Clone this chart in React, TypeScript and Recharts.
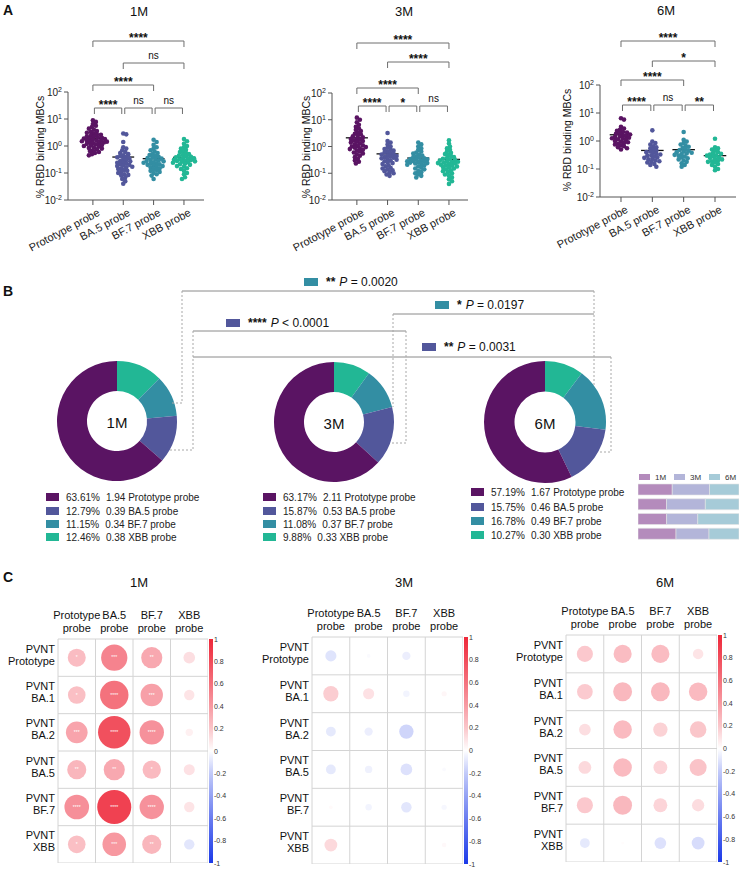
import React from 'react'
import {
  Bar,
  BarChart,
  Cell,
  Pie,
  PieChart,
  ReferenceLine,
  Scatter,
  ScatterChart,
  XAxis,
  YAxis,
} from 'recharts'

const FONT = '"Liberation Sans", Arial, Helvetica, sans-serif'

const PROBES = ['Prototype probe', 'BA.5 probe', 'BF.7 probe', 'XBB probe']
const PROBE_COLORS = ['#5a1463', '#52579b', '#338ea3', '#22b795']
const TIME_COLORS = ['#b48bbc', '#b3b5d9', '#a6cbd8']

// % RBD binding MBCs per donor
const M1_PROTOTYPE = [9.0, 7.8, 6.5, 5.6, 5.0, 4.4, 4.0, 3.6, 3.3, 3.1, 2.9, 2.7, 2.6, 2.4, 2.3, 2.2, 2.1, 2.0, 1.9, 1.85, 1.8, 1.7, 1.65, 1.6, 1.55, 1.5, 1.45, 1.4, 1.35, 1.3, 1.25, 1.2, 1.15, 1.1, 1.05, 1.0, 0.95, 0.9, 0.85, 0.8, 0.75, 0.7, 0.65, 0.6, 0.55, 0.5, 0.45]
const M1_BA5 = [2.9, 2.7, 1.4, 0.9, 0.8, 0.7, 0.6, 0.55, 0.5, 0.45, 0.42, 0.4, 0.38, 0.35, 0.33, 0.3, 0.28, 0.27, 0.25, 0.24, 0.22, 0.21, 0.2, 0.19, 0.18, 0.17, 0.16, 0.15, 0.14, 0.13, 0.12, 0.11, 0.1, 0.09, 0.085, 0.08, 0.07, 0.06, 0.05, 0.04]
const M1_BF7 = [1.7, 1.4, 1.1, 0.9, 0.8, 0.7, 0.62, 0.55, 0.5, 0.46, 0.43, 0.4, 0.38, 0.36, 0.34, 0.32, 0.3, 0.29, 0.28, 0.27, 0.25, 0.24, 0.23, 0.22, 0.21, 0.2, 0.19, 0.18, 0.17, 0.16, 0.15, 0.14, 0.13, 0.12, 0.11, 0.1, 0.09, 0.08, 0.06]
const M1_XBB = [1.8, 1.5, 1.2, 1.0, 0.9, 0.8, 0.72, 0.65, 0.6, 0.55, 0.5, 0.47, 0.44, 0.42, 0.4, 0.38, 0.36, 0.35, 0.34, 0.32, 0.31, 0.3, 0.29, 0.28, 0.27, 0.26, 0.25, 0.24, 0.22, 0.21, 0.2, 0.18, 0.17, 0.15, 0.14, 0.12, 0.1, 0.09, 0.07, 0.06]

const M3_PROTOTYPE = [12, 10, 8, 6.5, 5.5, 4.8, 4.2, 3.8, 3.4, 3.0, 2.8, 2.6, 2.4, 2.2, 2.0, 1.9, 1.8, 1.7, 1.6, 1.5, 1.4, 1.3, 1.2, 1.1, 1.05, 1.0, 0.95, 0.9, 0.85, 0.8, 0.75, 0.7, 0.65, 0.6, 0.55, 0.5, 0.45, 0.4, 0.35, 0.3, 0.27, 0.23]
const M3_BA5 = [3.2, 1.6, 1.4, 1.2, 1.0, 0.9, 0.8, 0.75, 0.7, 0.65, 0.6, 0.56, 0.52, 0.5, 0.47, 0.44, 0.42, 0.4, 0.38, 0.36, 0.34, 0.32, 0.3, 0.28, 0.26, 0.24, 0.22, 0.2, 0.18, 0.16, 0.15, 0.14, 0.13, 0.12, 0.11, 0.1, 0.09, 0.08]
const M3_BF7 = [1.4, 1.2, 1.0, 0.85, 0.75, 0.65, 0.6, 0.55, 0.5, 0.46, 0.43, 0.4, 0.38, 0.36, 0.34, 0.33, 0.32, 0.3, 0.29, 0.28, 0.27, 0.26, 0.25, 0.24, 0.23, 0.22, 0.21, 0.2, 0.18, 0.16, 0.15, 0.14, 0.12, 0.11, 0.1, 0.09, 0.08, 0.07]
const M3_XBB = [1.7, 1.3, 1.0, 0.85, 0.75, 0.65, 0.58, 0.52, 0.48, 0.44, 0.4, 0.37, 0.35, 0.33, 0.31, 0.3, 0.28, 0.27, 0.26, 0.25, 0.24, 0.23, 0.22, 0.21, 0.2, 0.19, 0.18, 0.17, 0.16, 0.15, 0.14, 0.13, 0.12, 0.11, 0.1, 0.09, 0.08, 0.07, 0.06, 0.05, 0.04]

const M6_PROTOTYPE = [6.5, 5.8, 3.2, 2.8, 2.5, 2.3, 2.1, 2.0, 1.9, 1.8, 1.7, 1.6, 1.5, 1.45, 1.4, 1.3, 1.25, 1.2, 1.15, 1.1, 1.0, 0.95, 0.9, 0.85, 0.8, 0.75, 0.7, 0.65, 0.6, 0.55, 0.5]
const M6_BA5 = [2.4, 0.95, 0.85, 0.75, 0.65, 0.6, 0.55, 0.5, 0.46, 0.42, 0.4, 0.38, 0.35, 0.33, 0.31, 0.3, 0.28, 0.26, 0.25, 0.23, 0.22, 0.2, 0.19, 0.18, 0.17, 0.15, 0.14, 0.12]
const M6_BF7 = [2.1, 1.1, 0.95, 0.85, 0.75, 0.68, 0.62, 0.57, 0.52, 0.48, 0.45, 0.42, 0.4, 0.38, 0.36, 0.34, 0.32, 0.3, 0.28, 0.26, 0.24, 0.22, 0.2, 0.18, 0.16, 0.14, 0.12]
const M6_XBB = [1.2, 0.6, 0.55, 0.5, 0.45, 0.4, 0.37, 0.35, 0.33, 0.31, 0.3, 0.28, 0.26, 0.25, 0.23, 0.22, 0.2, 0.19, 0.18, 0.17, 0.15, 0.14, 0.12, 0.1, 0.09]

// group means (also used by the donuts and the stacked bars)
const MEANS_1M = [1.94, 0.39, 0.34, 0.38]
const MEANS_3M = [2.11, 0.53, 0.37, 0.33]
const MEANS_6M = [1.67, 0.46, 0.49, 0.3]

// brackets: Proto-BA5, BA5-BF7, BF7-XBB, Proto-BF7, BA5-XBB, Proto-XBB
const PAIRS = [[1, 2, 0], [2, 3, 0], [3, 4, 0], [1, 3, 1], [2, 4, 2], [1, 4, 3]]
const SIG_1M = ['****', 'ns', 'ns', '****', 'ns', '****']
const SIG_3M = ['****', '*', 'ns', '****', '****', '****']
const SIG_6M = ['****', 'ns', '**', '****', '*', '****']

// correlation r, rows = PVNT Prototype/BA.1/BA.2/BA.5/BF.7/XBB, cols = probes
const ROW_LABELS = ['Prototype', 'BA.1', 'BA.2', 'BA.5', 'BF.7', 'XBB']
const COL_LABELS = ['Prototype', 'BA.5', 'BF.7', 'XBB']
const CORR_1M = [
  [0.24, 0.51, 0.33, 0.1],
  [0.23, 0.6, 0.37, 0.08],
  [0.35, 0.78, 0.44, 0.04],
  [0.27, 0.33, 0.25, 0.09],
  [0.45, 0.86, 0.44, 0.08],
  [0.23, 0.41, 0.27, -0.08],
]
const CORR_SIG_1M = [
  ['*', '***', '**', ''],
  ['*', '****', '***', ''],
  ['***', '****', '****', ''],
  ['**', '**', '*', ''],
  ['****', '****', '****', ''],
  ['*', '***', '**', ''],
]
const CORR_3M = [
  [-0.09, -0.01, -0.05, 0],
  [0.17, 0.09, -0.03, 0.02],
  [-0.07, -0.05, -0.15, 0],
  [-0.07, -0.04, -0.1, -0.01],
  [0.01, -0.03, -0.08, -0.02],
  [0.12, 0, 0, 0.015],
]
const CORR_6M = [
  [0.19, 0.24, 0.24, 0.08],
  [0.18, 0.26, 0.26, 0.25],
  [0.1, 0.25, 0.15, 0.2],
  [0.12, 0.25, 0.14, 0.21],
  [0.19, 0.26, 0.14, 0.11],
  [-0.07, 0.005, -0.1, -0.12],
]
const BAR_TICKS = [1, 0.8, 0.6, 0.4, 0.2, 0, -0.2, -0.4, -0.6, -0.8, -1]

// simple deterministic beeswarm: push points sideways until they stop overlapping
function swarm(values: number[], cat: number, pxPerUnit: number, pxPerDecade: number) {
  const placed: { px: number; py: number }[] = []
  const out: { x: number; y: number }[] = []
  const sorted = [...values].sort((a, b) => b - a)
  for (const v of sorted) {
    const py = Math.log10(v) * pxPerDecade
    let px = 0
    for (let k = 0; k < 80; k++) {
      const cand = k === 0 ? 0 : (k % 2 ? 1 : -1) * Math.ceil(k / 2) * 1.0
      if (placed.every((p) => Math.hypot(p.px - cand, p.py - py) >= 3.1)) {
        px = cand
        break
      }
    }
    placed.push({ px, py })
    out.push({ x: cat + px / pxPerUnit, y: v })
  }
  return out
}

function corrColor(r: number) {
  const t = Math.pow(Math.min(1, Math.abs(r)), 0.82)
  const end = r >= 0 ? [238, 40, 58] : [28, 58, 232]
  const c = end.map((e) => Math.round(255 + (e - 255) * t))
  return `rgb(${c.join(',')})`
}

const PowTick = (props: any) => {
  const { x, y, payload } = props
  const exp = Math.round(Math.log10(payload.value))
  return (
    <text x={x} y={y} dy={4} textAnchor="end" fontSize={10} fill="#222" fontFamily={FONT}>
      10<tspan dy={-4} fontSize={7}>{exp}</tspan>
    </text>
  )
}

const ProbeTick = (props: any) => {
  const { x, y, payload } = props
  return (
    <g transform={`translate(${x + 4},${y + 1}) rotate(-28)`}>
      <text textAnchor="end" dy="0.72em" fontSize={11} fill="#222" fontFamily={FONT}>
        {PROBES[payload.value - 1]}
      </text>
    </g>
  )
}

const bracket = (offset: number, label: string, inset: number) => (p: any) => {
  const y = p.y1 + offset
  const xa = p.x1 + inset
  const xb = p.x2 - inset
  const stars = label !== 'ns'
  return (
    <g>
      <path d={`M${xa},${y + 6}V${y}H${xb}V${y + 6}`} fill="none" stroke="#6e6e6e" strokeWidth={1} />
      <text
        x={(xa + xb) / 2}
        y={stars ? y + 1 : y - 4}
        textAnchor="middle"
        fontSize={stars ? 12 : 10}
        fontWeight={stars ? 'bold' : 'normal'}
        fill="#111"
        fontFamily={FONT}
      >
        {label}
      </text>
    </g>
  )
}

const SWARMS = [
  { left: 0, width: 250, plot: [68, 204, 92, 200], domain: [0.18, 4.66], groups: [M1_PROTOTYPE, M1_BA5, M1_BF7, M1_XBB], means: MEANS_1M, sig: SIG_1M, levels: [16, -7, -29, -51] },
  { left: 250, width: 250, plot: [332, 468, 93, 200], domain: [0.19, 4.62], groups: [M3_PROTOTYPE, M3_BA5, M3_BF7, M3_XBB], means: MEANS_3M, sig: SIG_3M, levels: [13, -5, -31, -50] },
  { left: 500, width: 243, plot: [600, 736, 85, 197], domain: [0.33, 4.67], groups: [M6_PROTOTYPE, M6_BA5, M6_BF7, M6_XBB], means: MEANS_6M, sig: SIG_6M, levels: [20, -5, -24, -44] },
]

function SwarmPanel({ cfg }: { cfg: (typeof SWARMS)[number] }) {
  const height = 270
  const yAxisW = 30
  const xAxisH = 55
  const [pl, pr, pt, pb] = cfg.plot
  const margin = {
    top: pt,
    right: cfg.left + cfg.width - pr,
    bottom: height - pb - xAxisH,
    left: pl - cfg.left - yAxisW,
  }
  const pxPerUnit = (pr - pl) / (cfg.domain[1] - cfg.domain[0])
  const pxPerDecade = (pb - pt) / 4
  return (
    <div style={{ position: 'absolute', left: cfg.left, top: 0 }}>
      <ScatterChart width={cfg.width} height={height} margin={margin}>
        <XAxis
          type="number"
          dataKey="x"
          domain={cfg.domain}
          ticks={[1, 2, 3, 4]}
          height={xAxisH}
          tickSize={5}
          stroke="#555"
          tick={<ProbeTick />}
          allowDataOverflow
        />
        <YAxis
          type="number"
          dataKey="y"
          scale="log"
          domain={[0.01, 100]}
          ticks={[0.01, 0.1, 1, 10, 100]}
          width={yAxisW}
          tickSize={4}
          stroke="#555"
          tick={<PowTick />}
          allowDataOverflow
        />
        {cfg.groups.map((g, i) => (
          <Scatter
            key={PROBES[i]}
            data={swarm(g, i + 1, pxPerUnit, pxPerDecade)}
            isAnimationActive={false}
            shape={(p: any) => <circle cx={p.cx} cy={p.cy} r={2.3} fill={PROBE_COLORS[i]} />}
          />
        ))}
        {cfg.means.map((m, i) => (
          <ReferenceLine
            key={`m${i}`}
            segment={[{ x: i + 1 - 0.36, y: m }, { x: i + 1 + 0.36, y: m }]}
            stroke="#111"
            strokeWidth={1.3}
            ifOverflow="visible"
          />
        ))}
        {PAIRS.map(([a, b, lvl], i) => (
          <ReferenceLine
            key={`b${i}`}
            segment={[{ x: a, y: 100 }, { x: b, y: 100 }]}
            ifOverflow="visible"
            shape={bracket(cfg.levels[lvl], cfg.sig[i], lvl === 0 ? 1.5 : 0)}
          />
        ))}
      </ScatterChart>
    </div>
  )
}

const DONUTS = [
  { label: '1M', means: MEANS_1M, cx: 117, cy: 421, r: 60, legendX: 46, rows: [497, 511, 524, 537] },
  { label: '3M', means: MEANS_3M, cx: 334, cy: 422, r: 60, legendX: 263, rows: [497, 511, 524, 537] },
  { label: '6M', means: MEANS_6M, cx: 545, cy: 422, r: 61, legendX: 471, rows: [492, 507, 521, 535] },
]

function Donut({ cfg }: { cfg: (typeof DONUTS)[number] }) {
  // clockwise from 12 o'clock: XBB, BF.7, BA.5, Prototype
  const order = [3, 2, 1, 0]
  const data = order.map((i) => ({ name: PROBES[i], value: cfg.means[i], color: PROBE_COLORS[i] }))
  const size = cfg.r * 2 + 4
  return (
    <div style={{ position: 'absolute', left: cfg.cx - size / 2, top: cfg.cy - size / 2 }}>
      <PieChart width={size} height={size} margin={{ top: 0, right: 0, bottom: 0, left: 0 }}>
        <Pie
          data={data}
          dataKey="value"
          cx="50%"
          cy="50%"
          innerRadius={cfg.r / 2}
          outerRadius={cfg.r}
          startAngle={90}
          endAngle={-270}
          stroke="none"
          isAnimationActive={false}
        >
          {data.map((d) => (
            <Cell key={d.name} fill={d.color} />
          ))}
        </Pie>
      </PieChart>
    </div>
  )
}

const STACK_DATA = PROBES.map((p, i) => ({ probe: p, m1: MEANS_1M[i], m3: MEANS_3M[i], m6: MEANS_6M[i] }))

function StackBars() {
  return (
    <div style={{ position: 'absolute', left: 638, top: 482 }}>
      <BarChart
        layout="vertical"
        width={101}
        height={59}
        data={STACK_DATA}
        stackOffset="expand"
        margin={{ top: 0, right: 0, bottom: 0, left: 0 }}
      >
        <XAxis type="number" hide domain={[0, 1]} />
        <YAxis type="category" dataKey="probe" hide />
        {['m1', 'm3', 'm6'].map((k, i) => (
          <Bar key={k} dataKey={k} stackId="t" fill={TIME_COLORS[i]} barSize={11} stroke="#e4e4e4" strokeWidth={0.6} isAnimationActive={false} />
        ))}
      </BarChart>
    </div>
  )
}

const CORRS = [
  { values: CORR_1M, sig: CORR_SIG_1M, plot: [58, 208, 639, 863] },
  { values: CORR_3M, sig: null, plot: [312, 463, 637, 864] },
  { values: CORR_6M, sig: null, plot: [566, 717, 635, 862] },
]

const ColTick = (props: any) => {
  const { x, y, payload } = props
  return (
    <text x={x} y={y} textAnchor="middle" fontSize={11} fill="#111" fontFamily={FONT}>
      <tspan x={x} dy={-20}>{COL_LABELS[payload.value - 1]}</tspan>
      <tspan x={x} dy={13}>probe</tspan>
    </text>
  )
}

const RowTick = (props: any) => {
  const { x, y, payload } = props
  return (
    <text x={x} y={y} textAnchor="end" fontSize={11} fill="#111" fontFamily={FONT}>
      <tspan x={x} dy={-5}>PVNT</tspan>
      <tspan x={x} dy={12}>{ROW_LABELS[payload.value - 1]}</tspan>
    </text>
  )
}

function CorrPanel({ cfg }: { cfg: (typeof CORRS)[number] }) {
  const [pl, pr, pt, pb] = cfg.plot
  const yAxisW = 58
  const xAxisH = 39
  const half = (pr - pl) / 8
  const points = cfg.values.flatMap((row, i) =>
    row.map((v, j) => ({ x: j + 1, y: i + 1, r: v, sig: cfg.sig ? cfg.sig[i][j] : '' })),
  )
  return (
    <div style={{ position: 'absolute', left: pl - yAxisW, top: pt - xAxisH }}>
      <ScatterChart
        width={pr - pl + yAxisW}
        height={pb - pt + xAxisH}
        margin={{ top: 0, right: 0, bottom: 0, left: 0 }}
      >
        <XAxis
          type="number"
          dataKey="x"
          orientation="top"
          domain={[0.5, 4.5]}
          ticks={[1, 2, 3, 4]}
          height={xAxisH}
          tickLine={false}
          axisLine={false}
          tickSize={0}
          tickMargin={0}
          tick={<ColTick />}
        />
        <YAxis
          type="number"
          dataKey="y"
          domain={[0.5, 6.5]}
          reversed
          ticks={[1, 2, 3, 4, 5, 6]}
          width={yAxisW}
          tickLine={false}
          axisLine={false}
          tickSize={0}
          tickMargin={3}
          tick={<RowTick />}
        />
        {[0.5, 1.5, 2.5, 3.5, 4.5].map((x) => (
          <ReferenceLine key={`vx${x}`} x={x} stroke="#d4d4d4" ifOverflow="visible" />
        ))}
        {[0.5, 1.5, 2.5, 3.5, 4.5, 5.5, 6.5].map((y) => (
          <ReferenceLine key={`hy${y}`} y={y} stroke="#d4d4d4" ifOverflow="visible" />
        ))}
        <Scatter
          data={points}
          isAnimationActive={false}
          shape={(p: any) => (
            <g>
              <circle cx={p.cx} cy={p.cy} r={Math.sqrt(Math.abs(p.payload.r)) * half * 0.98} fill={corrColor(p.payload.r)} />
              {p.payload.sig ? (
                <text x={p.cx} y={p.cy + 1.5} textAnchor="middle" fontSize={5} fill="#fff" fontFamily={FONT}>
                  {p.payload.sig}
                </text>
              ) : null}
            </g>
          )}
        />
      </ScatterChart>
    </div>
  )
}

function Overlay() {
  const txt = { fontFamily: FONT, fill: '#111' }
  const gray = '#8a8a8a'
  const dash = { stroke: '#a8a8a8', strokeDasharray: '2 2', fill: 'none', strokeWidth: 1 }
  const pLabel = (x: number, y: number, color: string, stars: string, rest: string, op: string) => (
    <g>
      <rect x={x} y={y - 8} width={14} height={8} fill={color} />
      <text x={x + 22} y={y} fontSize={12} {...txt}>
        <tspan fontWeight="bold">{stars}</tspan>
        <tspan dx={4} fontStyle="italic">P</tspan>
        <tspan>{` ${op} ${rest}`}</tspan>
      </text>
    </g>
  )
  return (
    <svg width={743} height={870} style={{ position: 'absolute', left: 0, top: 0, pointerEvents: 'none' }}>
      <defs>
        <linearGradient id="cbar" x1="0" y1="0" x2="0" y2="1">
          {BAR_TICKS.map((v, i) => (
            <stop key={v} offset={`${(i / (BAR_TICKS.length - 1)) * 100}%`} stopColor={corrColor(v)} />
          ))}
        </linearGradient>
      </defs>

      {/* panel letters */}
      <text x={3} y={15} fontSize={14} fontWeight="bold" {...txt}>A</text>
      <text x={3} y={296} fontSize={14} fontWeight="bold" {...txt}>B</text>
      <text x={3} y={582} fontSize={14} fontWeight="bold" {...txt}>C</text>

      {/* panel A titles and y labels */}
      {[[139, 16], [404, 16], [666, 15]].map(([x, y], i) => (
        <text key={`at${i}`} x={x} y={y} fontSize={13} textAnchor="middle" {...txt}>{['1M', '3M', '6M'][i]}</text>
      ))}
      {[[40, 147], [306, 147], [567, 140]].map(([x, y], i) => (
        <text key={`ay${i}`} x={x} y={y} fontSize={10.5} textAnchor="middle" dominantBaseline="central" transform={`rotate(-90 ${x} ${y})`} {...txt}>
          % RBD binding MBCs
        </text>
      ))}

      {/* panel B comparison brackets */}
      <g stroke={gray} strokeWidth={1}>
        <line x1={182} y1={291} x2={594} y2={291} />
        <line x1={393} y1={314} x2={594} y2={314} />
        <line x1={193} y1={331} x2={406} y2={331} />
        <line x1={193} y1={357} x2={611} y2={357} />
      </g>
      <path d="M182,291V403H170" {...dash} />
      <path d="M193,331V450H168" {...dash} />
      <path d="M406,331V443H391" {...dash} />
      <path d="M393,314V407" {...dash} />
      <path d="M594,291V386" {...dash} />
      <path d="M611,357V452H598" {...dash} />
      {pLabel(304, 286, PROBE_COLORS[2], '**', '0.0020', '=')}
      {pLabel(435, 309, PROBE_COLORS[2], '*', '0.0197', '=')}
      {pLabel(226, 327, PROBE_COLORS[1], '****', '0.0001', '<')}
      {pLabel(422, 351, PROBE_COLORS[1], '**', '0.0031', '=')}

      {/* donut centre labels and legends */}
      {DONUTS.map((d) => {
        const total = d.means.reduce((s, v) => s + v, 0)
        return (
          <g key={d.label}>
            <text x={d.cx} y={d.cy + 1} fontSize={15} textAnchor="middle" dominantBaseline="central" {...txt}>{d.label}</text>
            {PROBES.map((p, i) => (
              <g key={p}>
                <rect x={d.legendX} y={d.rows[i] - 4} width={13} height={8} fill={PROBE_COLORS[i]} />
                <text x={d.legendX + 20} y={d.rows[i] + 3.5} fontSize={10} {...txt} fill="#222">
                  {`${((d.means[i] / total) * 100).toFixed(2)}%`}
                  <tspan dx={6}>{`${d.means[i].toFixed(2)} ${p}`}</tspan>
                </text>
              </g>
            ))}
          </g>
        )
      })}

      {/* stacked bar legend */}
      {['1M', '3M', '6M'].map((t, i) => (
        <g key={t}>
          <rect x={639 + i * 35} y={474} width={11} height={6} fill={TIME_COLORS[i]} />
          <text x={655 + i * 35} y={480} fontSize={8} fill="#333" fontFamily={FONT}>{t}</text>
        </g>
      ))}

      {/* panel C titles and colour bars */}
      {[[139, 587], [404, 587], [665, 587]].map(([x, y], i) => (
        <text key={`ct${i}`} x={x} y={y} fontSize={13} textAnchor="middle" {...txt}>{['1M', '3M', '6M'][i]}</text>
      ))}
      {CORRS.map((c, k) => {
        const [, pr, pt, pb] = c.plot
        return (
          <g key={`cb${k}`}>
            <rect x={pr + 1} y={pt} width={4} height={pb - pt} fill="url(#cbar)" />
            {BAR_TICKS.map((v) => (
              <text key={v} x={pr + 6} y={pt + ((1 - v) / 2) * (pb - pt) + 2.5} fontSize={7} fill="#333" fontFamily={FONT}>
                {String(v)}
              </text>
            ))}
          </g>
        )
      })}
    </svg>
  )
}

export default function App() {
  return (
    <div style={{ position: 'absolute', left: 0, top: 0, width: 743, height: 870, background: '#fff', fontFamily: FONT }}>
      {SWARMS.map((s) => (
        <SwarmPanel key={s.left} cfg={s} />
      ))}
      {DONUTS.map((d) => (
        <Donut key={d.label} cfg={d} />
      ))}
      <StackBars />
      {CORRS.map((c) => (
        <CorrPanel key={c.plot[0]} cfg={c} />
      ))}
      <Overlay />
    </div>
  )
}
